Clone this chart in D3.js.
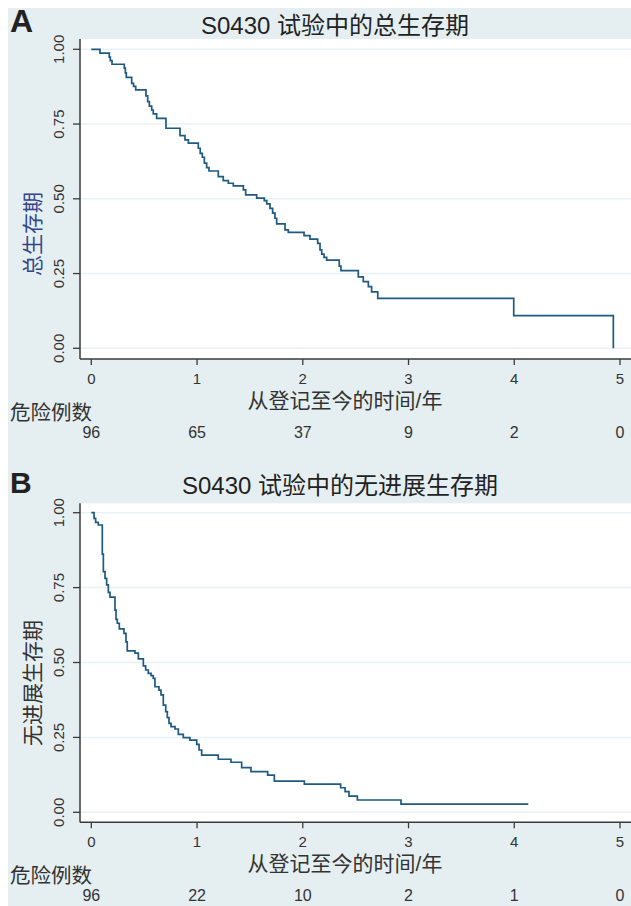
<!DOCTYPE html>
<html><head><meta charset="utf-8">
<script src="https://cdn.jsdelivr.net/npm/d3@7/dist/d3.min.js"></script>
<style>body{margin:0;background:#fff}svg{display:block}</style>
</head><body>
<svg id="c" width="631" height="906"></svg>
<script>
// ---------- data ----------
const timesA = [0,0.082,0.170,0.180,0.196,0.312,0.322,0.331,0.382,0.400,0.420,0.517,0.533,0.549,0.571,0.586,0.618,0.706,0.839,0.886,0.918,1.012,1.030,1.050,1.069,1.091,1.113,1.201,1.248,1.296,1.343,1.438,1.460,1.564,1.636,1.659,1.690,1.715,1.737,1.753,1.832,1.863,2.012,2.068,2.141,2.163,2.179,2.201,2.226,2.345,2.361,2.525,2.572,2.620,2.651,2.709,3.995,4.937];
const survA  = [1,0.987,0.974,0.962,0.950,0.937,0.921,0.906,0.886,0.876,0.864,0.844,0.825,0.810,0.797,0.784,0.769,0.736,0.711,0.697,0.686,0.669,0.652,0.639,0.619,0.604,0.593,0.574,0.561,0.552,0.543,0.530,0.513,0.502,0.494,0.483,0.468,0.452,0.435,0.416,0.396,0.388,0.377,0.365,0.351,0.329,0.315,0.304,0.295,0.275,0.260,0.239,0.223,0.206,0.189,0.167,0.109,0];
const timesB = [0,0.026,0.041,0.066,0.104,0.114,0.130,0.145,0.161,0.177,0.224,0.234,0.246,0.265,0.309,0.328,0.340,0.413,0.445,0.492,0.514,0.539,0.565,0.586,0.602,0.640,0.659,0.681,0.704,0.719,0.735,0.754,0.792,0.823,0.870,0.933,0.997,1.019,1.044,1.201,1.321,1.422,1.510,1.668,1.731,2.015,2.358,2.400,2.437,2.516,2.929,4.133];
const survB  = [1,0.981,0.968,0.959,0.862,0.803,0.781,0.759,0.734,0.718,0.675,0.644,0.631,0.612,0.597,0.569,0.539,0.531,0.512,0.489,0.475,0.464,0.456,0.447,0.419,0.408,0.392,0.358,0.336,0.316,0.297,0.286,0.278,0.260,0.249,0.241,0.227,0.208,0.191,0.177,0.167,0.149,0.136,0.124,0.104,0.094,0.082,0.069,0.054,0.041,0.027,0.027];
const xTicks = [0,1,2,3,4,5];
const yTicks = [0,0.25,0.5,0.75,1];
const yTickLabels = ["0.00","0.25","0.50","0.75","1.00"];
const riskA = [96,65,37,9,2,0];
const riskB = [96,22,10,2,1,0];
const titleA = "S0430 试验中的总生存期";
const titleB = "S0430 试验中的无进展生存期";
const yTitleA = "总生存期";
const yTitleB = "无进展生存期";
const xTitle = "从登记至今的时间/年";
const riskLabel = "危险例数";

// ---------- drawing ----------
const svg = d3.select("#c");
const LAT = "'Liberation Sans', Arial, 'Noto Sans CJK SC', sans-serif";
const CJK = "'Noto Sans CJK SC', 'Liberation Sans', sans-serif";
const BG = "#e5eff2";
const LINE = "#1f5a80";
const AX = "#3a3a3a";

svg.append("rect").attr("x",8).attr("y",8).attr("width",623).attr("height",898).attr("fill",BG);

const x = d3.scaleLinear().domain([0,5]).range([91.3,620]);

function panel(o){
  const y = d3.scaleLinear().domain([0,1]).range([o.y0,o.y1]);
  const g = svg.append("g");
  g.append("rect").attr("x",80).attr("y",o.top).attr("width",551).attr("height",o.bottom-o.top).attr("fill","#fff");
  // grid
  g.selectAll(".grid").data(yTicks).enter().append("line")
    .attr("x1",80).attr("x2",631).attr("y1",d=>y(d)).attr("y2",d=>y(d))
    .attr("stroke","#e8f1f5").attr("stroke-width",1.5);
  // curve
  const pts = o.times.map((t,i)=>[t,o.surv[i]]);
  g.append("path").datum(pts)
    .attr("d", d3.line().x(d=>x(d[0])).y(d=>y(d[1])).curve(d3.curveStepAfter))
    .attr("fill","none").attr("stroke",LINE).attr("stroke-width",1.7);
  // axes lines
  g.append("line").attr("x1",80).attr("x2",80).attr("y1",o.top).attr("y2",o.bottom).attr("stroke",AX).attr("stroke-width",1.5);
  g.append("line").attr("x1",80).attr("x2",631).attr("y1",o.bottom).attr("y2",o.bottom).attr("stroke",AX).attr("stroke-width",1.5);
  // y ticks
  g.selectAll(".yt").data(yTicks).enter().append("line")
    .attr("x1",73).attr("x2",80).attr("y1",d=>y(d)).attr("y2",d=>y(d)).attr("stroke",AX).attr("stroke-width",1.3);
  g.selectAll(".ytl").data(yTicks).enter().append("text")
    .attr("transform",d=>`translate(63.5,${y(d)}) rotate(-90)`)
    .attr("text-anchor","middle").attr("font-family",LAT).attr("font-size",15).attr("fill","#333")
    .text((d,i)=>yTickLabels[i]);
  // x ticks
  g.selectAll(".xt").data(xTicks).enter().append("line")
    .attr("x1",d=>x(d)).attr("x2",d=>x(d)).attr("y1",o.bottom).attr("y2",o.bottom+6).attr("stroke",AX).attr("stroke-width",1.3);
  g.selectAll(".xtl").data(xTicks).enter().append("text")
    .attr("x",d=>x(d)).attr("y",o.bottom+24.5).attr("text-anchor","middle")
    .attr("font-family",LAT).attr("font-size",15).attr("fill","#333").text(d=>d);
  // titles
  g.append("text").attr("x",10).attr("y",o.letterY).attr("font-family",LAT).attr("font-weight","bold")
    .attr("font-size",o.letterSize).attr("fill","#222").text(o.letter);
  g.append("text").attr("x",o.titleX).attr("y",o.titleY).attr("text-anchor","middle").attr("font-family",LAT)
    .attr("font-size",24).attr("fill","#222").text(o.title);
  g.append("text").attr("transform",`translate(40,${o.yTitleC}) rotate(-90)`).attr("text-anchor","middle")
    .attr("font-family",CJK).attr("font-size",21).attr("fill",o.yTitleColor).text(o.yTitle);
  g.append("text").attr("x",345).attr("y",o.bottom+49).attr("text-anchor","middle")
    .attr("font-family",LAT).attr("font-size",21).attr("fill","#333").text(xTitle);
  g.append("text").attr("x",10).attr("y",o.bottom+61).attr("font-family",CJK)
    .attr("font-size",20.5).attr("fill","#333").text(riskLabel);
  g.selectAll(".risk").data(o.risk).enter().append("text")
    .attr("x",(d,i)=>x(xTicks[i])).attr("y",o.bottom+79).attr("text-anchor","middle")
    .attr("font-family",LAT).attr("font-size",16).attr("fill","#333").text(d=>d);
}

panel({top:39,bottom:359,y0:348.3,y1:49.3,times:timesA,surv:survA,risk:riskA,
  letter:"A",letterY:32.3,letterSize:32,title:titleA,titleX:335,titleY:34,yTitle:yTitleA,yTitleC:234,yTitleColor:"#34468a"});
panel({top:503.3,bottom:822.3,y0:812.3,y1:512.7,times:timesB,surv:survB,risk:riskB,
  letter:"B",letterY:493.3,letterSize:30,title:titleB,titleX:340,titleY:493.5,yTitle:yTitleB,yTitleC:683,yTitleColor:"#333"});
</script>
</body></html>
